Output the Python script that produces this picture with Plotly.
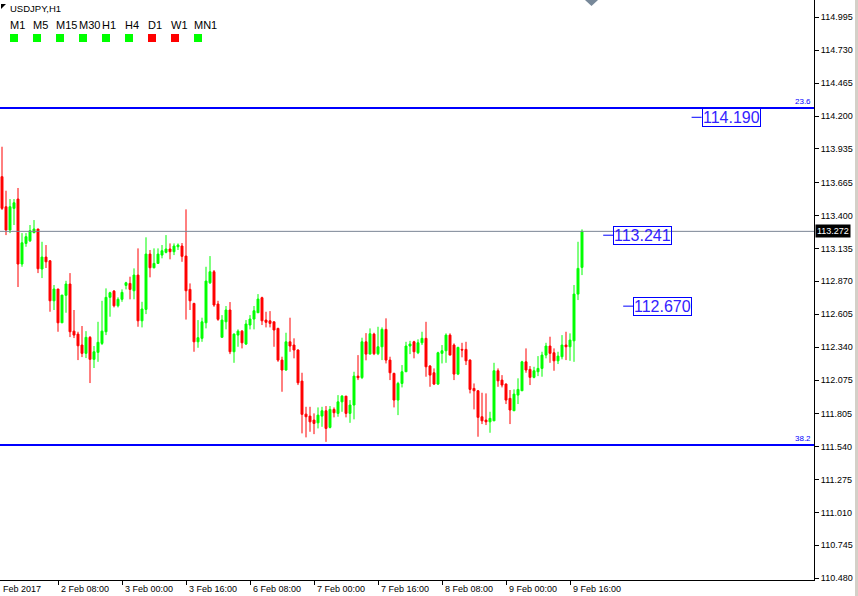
import plotly.graph_objects as go
import pandas as pd

# ---------------- data ----------------
symbol_title = "USDJPY,H1"

opens = [113.712, 113.470, 113.283, 113.457, 113.532, 113.009, 113.175, 113.196, 113.261, 113.291,
         112.969, 113.065, 113.035, 112.713, 112.808, 112.536, 112.757, 112.848, 112.469, 112.445,
         112.357, 112.290, 112.419, 112.242, 112.298, 112.370, 112.464, 112.741, 112.791, 112.673,
         112.725, 112.837, 112.853, 112.794, 112.920, 112.552, 112.644, 113.089, 112.979, 113.014,
         113.081, 113.103, 113.130, 113.108, 113.148, 113.154, 113.073, 112.805, 112.692, 112.383,
         112.411, 112.536, 112.858, 112.947, 112.687, 112.419, 112.544, 112.639, 112.303, 112.437,
         112.469, 112.365, 112.518, 112.566, 112.617, 112.738, 112.558, 112.552, 112.544, 112.491,
         112.236, 112.156, 112.383, 112.357, 112.317, 112.067, 111.801, 111.785, 111.753, 111.731,
         111.785, 111.828, 111.694, 111.839, 111.807, 111.900, 111.946, 111.807, 111.874, 112.107,
         112.095, 112.383, 112.284, 112.445, 112.287, 112.343, 112.483, 112.236, 112.129, 111.914,
         112.048, 112.142, 112.349, 112.383, 112.295, 112.375, 112.411, 112.188, 112.134, 112.043,
         112.290, 112.311, 112.437, 112.357, 112.123, 112.322, 112.322, 112.236, 112.008, 111.989,
         111.780, 111.753, 111.739, 111.747, 112.150, 112.075, 112.043, 111.928, 111.828, 111.954,
         111.989, 112.222, 112.161, 112.097, 112.142, 112.169, 112.276, 112.349, 112.295, 112.230,
         112.263, 112.357, 112.343, 112.391, 112.767, 112.982]
highs = [113.953, 113.599, 113.532, 113.532, 113.621, 113.258, 113.258, 113.323, 113.363, 113.291,
         113.188, 113.162, 113.041, 112.840, 112.808, 112.759, 112.874, 112.936, 112.639, 112.464,
         112.510, 112.469, 112.429, 112.349, 112.544, 112.713, 112.813, 112.786, 112.800, 112.741,
         112.805, 112.866, 112.907, 112.974, 113.135, 112.705, 113.224, 113.122, 113.135, 113.135,
         113.162, 113.242, 113.175, 113.175, 113.175, 113.178, 113.449, 112.853, 112.697, 112.558,
         112.577, 112.987, 113.073, 112.961, 112.713, 112.598, 112.671, 112.703, 112.451, 112.483,
         112.478, 112.558, 112.598, 112.671, 112.767, 112.746, 112.625, 112.630, 112.544, 112.496,
         112.263, 112.456, 112.577, 112.411, 112.322, 112.134, 111.860, 111.860, 111.807, 111.855,
         111.860, 111.866, 111.866, 111.855, 111.954, 111.954, 111.946, 111.914, 112.142, 112.276,
         112.416, 112.453, 112.491, 112.456, 112.504, 112.499, 112.572, 112.263, 112.134, 112.061,
         112.196, 112.383, 112.391, 112.391, 112.403, 112.464, 112.544, 112.196, 112.169, 112.303,
         112.357, 112.451, 112.451, 112.370, 112.343, 112.375, 112.383, 112.242, 112.048, 111.995,
         111.973, 111.968, 111.820, 112.214, 112.169, 112.115, 112.048, 111.995, 112.000, 112.089,
         112.230, 112.330, 112.188, 112.182, 112.268, 112.303, 112.375, 112.424, 112.330, 112.303,
         112.437, 112.464, 112.451, 112.840, 113.188, 113.288]
lows = [113.444, 113.242, 113.258, 113.323, 112.824, 112.987, 113.148, 113.186, 113.258, 112.936,
        112.896, 112.977, 112.625, 112.639, 112.464, 112.536, 112.617, 112.421, 112.413, 112.236,
        112.260, 112.252, 112.051, 112.172, 112.222, 112.357, 112.437, 112.585, 112.660, 112.660,
        112.705, 112.805, 112.725, 112.725, 112.504, 112.499, 112.606, 112.902, 112.974, 113.014,
        113.055, 113.095, 113.047, 113.081, 113.122, 113.027, 112.562, 112.639, 112.303, 112.335,
        112.383, 112.491, 112.848, 112.665, 112.552, 112.419, 112.483, 112.284, 112.214, 112.343,
        112.330, 112.357, 112.483, 112.483, 112.617, 112.518, 112.499, 112.499, 112.343, 112.222,
        111.981, 112.150, 112.303, 112.250, 112.035, 111.646, 111.614, 111.659, 111.640, 111.686,
        111.699, 111.578, 111.686, 111.775, 111.780, 111.820, 111.775, 111.731, 111.759, 112.075,
        112.083, 112.234, 112.284, 112.276, 112.276, 112.236, 112.209, 112.075, 111.855, 111.793,
        112.016, 112.142, 112.284, 112.250, 112.284, 112.357, 112.102, 112.021, 112.035, 112.035,
        112.209, 112.214, 112.276, 112.075, 112.115, 112.258, 112.196, 111.968, 111.839, 111.619,
        111.721, 111.713, 111.651, 111.747, 112.021, 112.016, 111.882, 111.721, 111.828, 111.882,
        111.989, 112.134, 112.035, 112.089, 112.107, 112.102, 112.250, 112.214, 112.150, 112.204,
        112.242, 112.236, 112.230, 112.222, 112.719, 112.920]
closes = [113.457, 113.283, 113.470, 113.502, 113.009, 113.180, 113.229, 113.277, 113.291, 112.971,
          113.065, 113.027, 112.713, 112.808, 112.536, 112.759, 112.848, 112.464, 112.437, 112.351,
          112.290, 112.419, 112.242, 112.303, 112.379, 112.469, 112.741, 112.778, 112.673, 112.725,
          112.781, 112.858, 112.805, 112.920, 112.552, 112.647, 113.089, 112.979, 113.014, 113.089,
          113.116, 113.130, 113.108, 113.154, 113.162, 113.071, 112.794, 112.713, 112.383, 112.416,
          112.544, 112.872, 112.947, 112.679, 112.564, 112.558, 112.639, 112.303, 112.445, 112.469,
          112.375, 112.526, 112.566, 112.633, 112.727, 112.552, 112.540, 112.531, 112.478, 112.236,
          112.156, 112.383, 112.349, 112.317, 112.053, 111.799, 111.780, 111.739, 111.726, 111.793,
          111.828, 111.686, 111.839, 111.812, 111.900, 111.946, 111.807, 111.874, 112.107, 112.094,
          112.383, 112.284, 112.448, 112.287, 112.343, 112.483, 112.236, 112.134, 111.914, 112.048,
          112.142, 112.349, 112.365, 112.303, 112.375, 112.411, 112.182, 112.115, 112.043, 112.295,
          112.311, 112.437, 112.276, 112.123, 112.338, 112.317, 112.230, 112.000, 111.989, 111.775,
          111.747, 111.739, 111.767, 112.150, 112.069, 112.035, 111.914, 111.834, 111.962, 112.000,
          112.222, 112.156, 112.097, 112.150, 112.169, 112.276, 112.349, 112.290, 112.230, 112.268,
          112.357, 112.343, 112.397, 112.767, 112.974, 113.272]

first_bar_time = "2017-02-01 18:00"
last_bar_time = "2017-02-09 19:00"

x_tick_times = ["2017-02-02 08:00", "2017-02-03 00:00", "2017-02-03 16:00", "2017-02-06 08:00",
                "2017-02-07 00:00", "2017-02-07 16:00", "2017-02-08 08:00", "2017-02-09 00:00",
                "2017-02-09 16:00"]
x_tick_labels = ["2 Feb 08:00", "3 Feb 00:00", "3 Feb 16:00", "6 Feb 08:00", "7 Feb 00:00",
                 "7 Feb 16:00", "8 Feb 08:00", "9 Feb 00:00", "9 Feb 16:00"]
first_date_label = "Feb 2017"

y_tick_labels = ["114.995", "114.730", "114.465", "114.200", "113.935", "113.665", "113.400",
                 "113.135", "112.870", "112.605", "112.340", "112.075", "111.805", "111.540",
                 "111.275", "111.010", "110.745", "110.480"]

fib_levels = [114.265, 111.552]
fib_labels = ["23.6", "38.2"]

price_labels = [114.190, 113.241, 112.670]
price_label_bars = [174.9, 152.8, 157.8]   # bar position of each label box

timeframes = ["M1", "M5", "M15", "M30", "H1", "H4", "D1", "W1", "MN1"]
tf_signals = ["up", "up", "up", "up", "up", "up", "down", "down", "up"]

# ---------------- build ----------------
times = pd.date_range(first_bar_time, last_bar_time, freq="h")
times = times[times.dayofweek < 5]
bars = list(range(len(times)))
tick_pos = [int(times.get_loc(pd.Timestamp(t))) for t in x_tick_times]

W, H = 858, 596
ML, MR, MT, MB = 0, 44, 0, 16
PW, PH = W - ML - MR, H - MT - MB
FONT = "Liberation Sans"

def px(x):
    return x / PW

def py(y):
    return 1 - y / PH

fig = go.Figure()
fig.add_trace(go.Candlestick(
    x=bars, open=opens, high=highs, low=lows, close=closes,
    increasing=dict(line=dict(color="#00ff00", width=1), fillcolor="#00ff00"),
    decreasing=dict(line=dict(color="#ff0000", width=1), fillcolor="#ff0000"),
    whiskerwidth=0, hoverinfo="skip", showlegend=False,
))

shapes = []
annotations = []

# fibonacci levels
for lv, lb in zip(fib_levels, fib_labels):
    shapes.append(dict(type="line", xref="paper", x0=0, x1=1, yref="y", y0=lv, y1=lv,
                       line=dict(color="#0000ff", width=2)))
    annotations.append(dict(xref="paper", x=1, xanchor="right", yref="y", y=lv, yanchor="bottom",
                            text=lb, showarrow=False, xshift=-1, yshift=0,
                            font=dict(family=FONT, size=8, color="#0000ff")))

# bid line
last = closes[-1]
shapes.append(dict(type="line", xref="paper", x0=0, x1=1, yref="y", y0=last, y1=last,
                   line=dict(color="#7a8594", width=1)))
annotations.append(dict(xref="paper", x=1, xanchor="left", yref="y", y=last, yanchor="middle",
                        text=f"{last:.3f}", showarrow=False, xshift=1, bgcolor="#000000",
                        borderpad=1, font=dict(family=FONT, size=9, color="#ffffff")))

# price label boxes
for p, b in zip(price_labels, price_label_bars):
    shapes.append(dict(type="line", xref="x", x0=b - 2.5, x1=b, yref="y", y0=p, y1=p,
                       line=dict(color="#0000ff", width=1)))
    annotations.append(dict(xref="x", x=b, xanchor="left", yref="y", y=p, yanchor="middle",
                            text=f"{p:.3f}", showarrow=False, bordercolor="#0000ff",
                            borderwidth=1, borderpad=0,
                            font=dict(family=FONT, size=16, color="#3322ff")))

# x tick labels (left-aligned, MT4 style)
for pos, lab in zip(tick_pos, x_tick_labels):
    annotations.append(dict(xref="x", x=pos, xanchor="left", yref="paper", y=0, yanchor="top",
                            text=lab, showarrow=False, xshift=1, yshift=-2,
                            font=dict(family=FONT, size=9, color="#000000")))
annotations.append(dict(xref="paper", x=0, xanchor="left", yref="paper", y=0, yanchor="top",
                        text=first_date_label, showarrow=False, xshift=1, yshift=-2,
                        font=dict(family=FONT, size=9, color="#000000")))

# title
annotations.append(dict(xref="paper", x=px(8), xanchor="left", yref="paper", y=py(8),
                        yanchor="middle", text=symbol_title, showarrow=False,
                        font=dict(family=FONT, size=9.5, color="#000000")))
shapes.append(dict(type="path", xref="paper", yref="paper",
                   path=f"M {px(1)} {py(4)} L {px(6)} {py(4)} L {px(1)} {py(9)} Z",
                   fillcolor="#000000", line=dict(width=0)))

# timeframe signals
for k, (tf, sig) in enumerate(zip(timeframes, tf_signals)):
    cx = 14 + 23 * k
    annotations.append(dict(xref="paper", x=px(cx - 6), xanchor="left", yref="paper", y=py(25),
                            yanchor="middle", text=tf, showarrow=False,
                            font=dict(family=FONT, size=11, color="#000000")))
    col = "#00ff00" if sig == "up" else "#ff0000"
    shapes.append(dict(type="rect", xref="paper", yref="paper", x0=px(cx - 4), x1=px(cx + 4),
                       y0=py(42), y1=py(34), fillcolor=col, line=dict(width=0)))

# chart shift marker
shapes.append(dict(type="path", xref="paper", yref="paper",
                   path=f"M {px(585)} {py(0)} L {px(598)} {py(0)} L {px(591.5)} {py(6)} Z",
                   fillcolor="#778899", line=dict(width=0)))
# window edge
shapes.append(dict(type="rect", xref="paper", yref="paper", x0=px(855), x1=px(858),
                   y0=-MB / PH, y1=1, fillcolor="#d4d0c8", line=dict(width=0)))

fig.update_layout(
    width=W, height=H,
    margin=dict(l=ML, r=MR, t=MT, b=MB, pad=0),
    paper_bgcolor="#ffffff", plot_bgcolor="#ffffff",
    showlegend=False,
    shapes=shapes, annotations=annotations,
    xaxis=dict(range=[-0.5, 203], showgrid=False, zeroline=False, showline=True,
               linecolor="#000000", linewidth=1, ticks="outside", ticklen=4,
               tickcolor="#000000", tickvals=tick_pos, showticklabels=False,
               rangeslider=dict(visible=False), fixedrange=True),
    yaxis=dict(side="right", range=[110.466, 115.134], showgrid=False, zeroline=False,
               showline=True, linecolor="#000000", linewidth=1, ticks="outside", ticklen=4,
               tickcolor="#000000", tickvals=[float(t) for t in y_tick_labels],
               ticktext=y_tick_labels, tickfont=dict(family=FONT, size=9, color="#000000"),
               fixedrange=True),
)

fig.write_html("out.html", config={"displayModeBar": False},
               post_script="document.body.style.margin='0px';document.body.style.overflow='hidden';")
